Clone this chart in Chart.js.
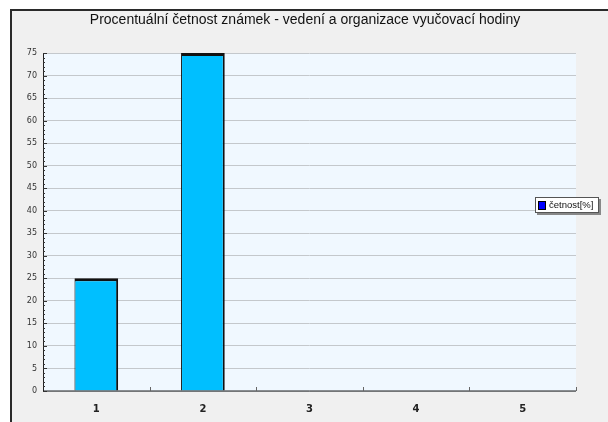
<!DOCTYPE html>
<html>
<head>
<meta charset="utf-8">
<script src="https://cdn.jsdelivr.net/npm/chart.js@4/dist/chart.umd.min.js"></script>
<style>
  body { margin: 0; background: #fff; }
  #wrap { width: 608px; height: 422px; }
</style>
</head>
<body>
<div id="wrap"><canvas id="mychart" width="608" height="422"></canvas></div>
<script>
// data
const categories = ['1', '2', '3', '4', '5'];
const cetnost = [25, 75, 0, 0, 0];
const seriesLabel = 'četnost[%]';
const chartTitle = 'Procentuální četnost známek - vedení a organizace vyučovací hodiny';
const yMax = 75;
const yStep = 5;

// frame, title, plot background, minor ticks and the little legend box
const decor = {
    id: 'decor',
    beforeDraw(chart) {
        const c = chart.ctx;
        const a = chart.chartArea;
        c.save();
        c.fillStyle = '#ffffff';
        c.fillRect(0, 0, chart.width, chart.height);
        c.fillStyle = '#f0f0f0';
        c.fillRect(10, 9, chart.width - 10, chart.height - 9);
        c.strokeStyle = '#2a2a2a';
        c.lineWidth = 2;
        c.beginPath();
        c.moveTo(11, chart.height);
        c.lineTo(11, 10);
        c.lineTo(chart.width, 10);
        c.stroke();
        c.fillStyle = '#f0f8ff';
        c.fillRect(a.left, a.top, a.right - a.left, a.bottom - a.top);
        // title
        c.fillStyle = '#111';
        c.font = '14px "Liberation Sans", Arial, sans-serif';
        c.textAlign = 'center';
        c.textBaseline = 'middle';
        c.fillText(chartTitle, 305, 20);
        c.restore();
    },
    afterDatasetsDraw(chart) {
        const c = chart.ctx;
        const a = chart.chartArea;
        const y = chart.scales.y;
        const x = chart.scales.x;
        c.save();
        // axis lines
        c.strokeStyle = '#222';
        c.lineWidth = 1;
        c.beginPath();
        c.moveTo(a.left + 0.5, a.top);
        c.lineTo(a.left + 0.5, a.bottom);
        c.lineTo(a.right, a.bottom);
        c.stroke();
        // minor ticks on y every unit
        c.strokeStyle = '#333';
        c.beginPath();
        for (let v = 0; v <= yMax; v++) {
            const py = Math.round(y.getPixelForValue(v)) + 0.5;
            const len = v % yStep === 0 ? 4 : 2;
            c.moveTo(a.left, py);
            c.lineTo(a.left + len, py);
        }
        c.stroke();
        // x ticks at category boundaries, pointing up
        c.strokeStyle = '#666';
        c.beginPath();
        const half = (x.getPixelForValue(1) - x.getPixelForValue(0)) / 2;
        for (let i = 0; i < categories.length; i++) {
            const px = Math.round(x.getPixelForValue(i) + half) + 0.5;
            c.moveTo(px, a.bottom);
            c.lineTo(px, a.bottom - 4);
        }
        c.stroke();
        // legend box
        c.font = '9.5px "Liberation Sans", Arial, sans-serif';
        const tw = c.measureText(seriesLabel).width;
        const lx = 535, ly = 197, lw = Math.ceil(tw) + 19, lh = 16;
        c.fillStyle = '#888';
        c.fillRect(lx + 2, ly + 2, lw, lh);
        c.fillStyle = '#ffffff';
        c.fillRect(lx, ly, lw, lh);
        c.strokeStyle = '#555';
        c.strokeRect(lx + 0.5, ly + 0.5, lw - 1, lh - 1);
        c.fillStyle = '#0000ff';
        c.fillRect(lx + 3, ly + 4, 8, 9);
        c.strokeStyle = '#000';
        c.strokeRect(lx + 3.5, ly + 4.5, 7, 8);
        c.fillStyle = '#111';
        c.textBaseline = 'middle';
        c.fillText(seriesLabel, lx + 14, ly + lh / 2 + 0.5);
        c.restore();
    }
};

const ctx = document.getElementById('mychart');

new Chart(ctx, {
    type: 'bar',
    data: {
        labels: categories,
        datasets: [{
            label: seriesLabel,
            data: cetnost,
            backgroundColor: '#00bfff',
            borderColor: '#111',
            borderWidth: { top: 3, right: 2, left: 1, bottom: 0 },
            barPercentage: 0.82,
            categoryPercentage: 0.5
        }]
    },
    options: {
        responsive: false,
        animation: false,
        layout: { padding: { left: 10, right: 32, top: 53, bottom: 0 } },
        plugins: {
            legend: { display: false },
            tooltip: { enabled: false },
            title: { display: false }
        },
        scales: {
            x: {
                grid: { display: false },
                border: { display: false },
                ticks: {
                    color: '#222',
                    font: { family: '"DejaVu Sans", sans-serif', size: 10, weight: 'bold' },
                    padding: 4
                },
                afterFit(scale) { scale.height = 31; }
            },
            y: {
                min: 0,
                max: yMax,
                grid: { color: '#c4c8cc', drawTicks: false },
                border: { display: false },
                ticks: {
                    stepSize: yStep,
                    color: '#333',
                    font: { family: '"DejaVu Sans", sans-serif', size: 8 },
                    padding: 6
                },
                afterFit(scale) { scale.width = 33; }
            }
        }
    },
    plugins: [decor]
});
</script>
</body>
</html>
